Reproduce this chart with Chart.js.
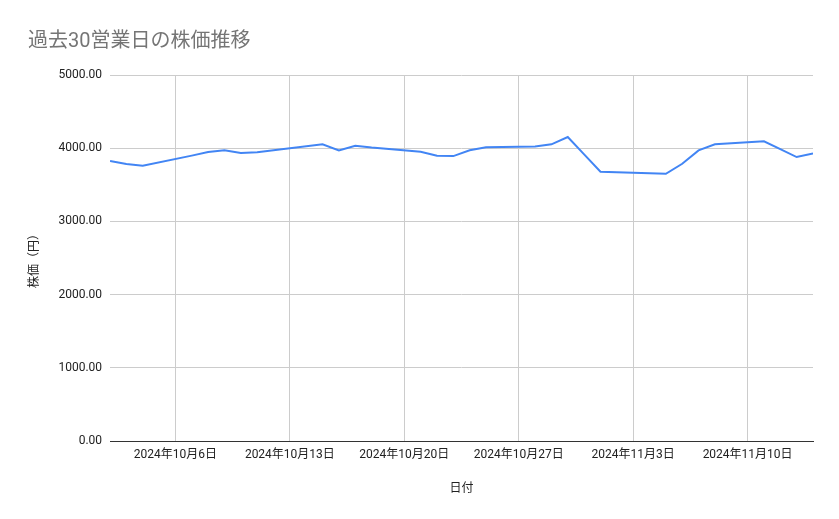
<!DOCTYPE html>
<html>
<head>
<meta charset="utf-8">
<script src="https://cdn.jsdelivr.net/npm/chart.js@4"></script>
<style>
    html, body { margin: 0; padding: 0; background: #ffffff; }
    #wrap { width: 839px; height: 519px; position: relative; }
</style>
</head>
<body>
<div id="wrap"><canvas id="price-chart"></canvas></div>
<script>
// trading days (JP holidays 10/14 and 11/4 skipped)
const dates = [
    '2024-10-02', '2024-10-03', '2024-10-04', '2024-10-07', '2024-10-08',
    '2024-10-09', '2024-10-10', '2024-10-11', '2024-10-15', '2024-10-16',
    '2024-10-17', '2024-10-18', '2024-10-21', '2024-10-22', '2024-10-23',
    '2024-10-24', '2024-10-25', '2024-10-28', '2024-10-29', '2024-10-30',
    '2024-10-31', '2024-11-01', '2024-11-05', '2024-11-06', '2024-11-07',
    '2024-11-08', '2024-11-11', '2024-11-12', '2024-11-13', '2024-11-14'
];
const prices = [
    3825, 3784, 3761, 3899, 3948,
    3971, 3935, 3945, 4053, 3971,
    4034, 4009, 3952, 3897, 3893,
    3972, 4012, 4024, 4053, 4153,
    3916, 3679, 3651, 3788, 3971,
    4053, 4094, 3989, 3880, 3930
];
const weekTicks = ['2024-10-06', '2024-10-13', '2024-10-20', '2024-10-27', '2024-11-03', '2024-11-10'];
const yTicks = [0, 1000, 2000, 3000, 4000, 5000];

const DAY = 86400000;
const toDay = s => {
    const [y, m, d] = s.split('-').map(Number);
    return Date.UTC(y, m - 1, d) / DAY;
};
const dayLabel = v => {
    const d = new Date(v * DAY);
    return `${d.getUTCFullYear()}年${d.getUTCMonth() + 1}月${d.getUTCDate()}日`;
};

const fontFamily = 'Roboto, "Noto Sans CJK JP", sans-serif';

new Chart(document.getElementById('price-chart'), {
    type: 'line',
    data: {
        datasets: [{
            label: '株価(円)',
            data: dates.map((d, i) => ({ x: toDay(d), y: prices[i] })),
            borderColor: '#4285f4',
            borderWidth: 2,
            pointRadius: 0,
            tension: 0,
            fill: false
        }]
    },
    options: {
        responsive: true,
        maintainAspectRatio: false,
        animation: false,
        layout: {
            padding: { left: 28, right: 26, top: 0, bottom: 23 }
        },
        plugins: {
            legend: { display: false },
            tooltip: { enabled: false },
            title: {
                display: true,
                text: '過去30営業日の株価推移',
                align: 'start',
                color: '#757575',
                font: { family: fontFamily, size: 20, weight: 'normal' },
                padding: { top: 30, bottom: 21 }
            }
        },
        scales: {
            x: {
                type: 'linear',
                min: toDay(dates[0]),
                max: toDay(dates[dates.length - 1]),
                afterBuildTicks: axis => {
                    axis.ticks = weekTicks.map(s => ({ value: toDay(s) }));
                },
                grid: {
                    color: '#cccccc',
                    drawTicks: false
                },
                border: { color: '#333333', width: 1 },
                ticks: {
                    color: '#222222',
                    font: { family: fontFamily, size: 12 },
                    padding: 7,
                    maxRotation: 0,
                    autoSkip: false,
                    callback: v => dayLabel(v)
                },
                title: {
                    display: true,
                    text: '日付',
                    color: '#222222',
                    font: { family: fontFamily, size: 12 },
                    padding: { top: 12, bottom: 0 }
                }
            },
            y: {
                min: 0,
                max: 5000,
                afterBuildTicks: axis => {
                    axis.ticks = yTicks.map(v => ({ value: v }));
                },
                grid: {
                    color: '#cccccc',
                    drawTicks: false
                },
                border: { display: false },
                ticks: {
                    color: '#222222',
                    font: { family: fontFamily, size: 12 },
                    padding: 8,
                    callback: v => v.toFixed(2)
                },
                title: {
                    display: true,
                    text: '株価（円）',
                    color: '#222222',
                    font: { family: fontFamily, size: 12 },
                    padding: { top: 0, bottom: 8 }
                }
            }
        }
    }
});
</script>
</body>
</html>
